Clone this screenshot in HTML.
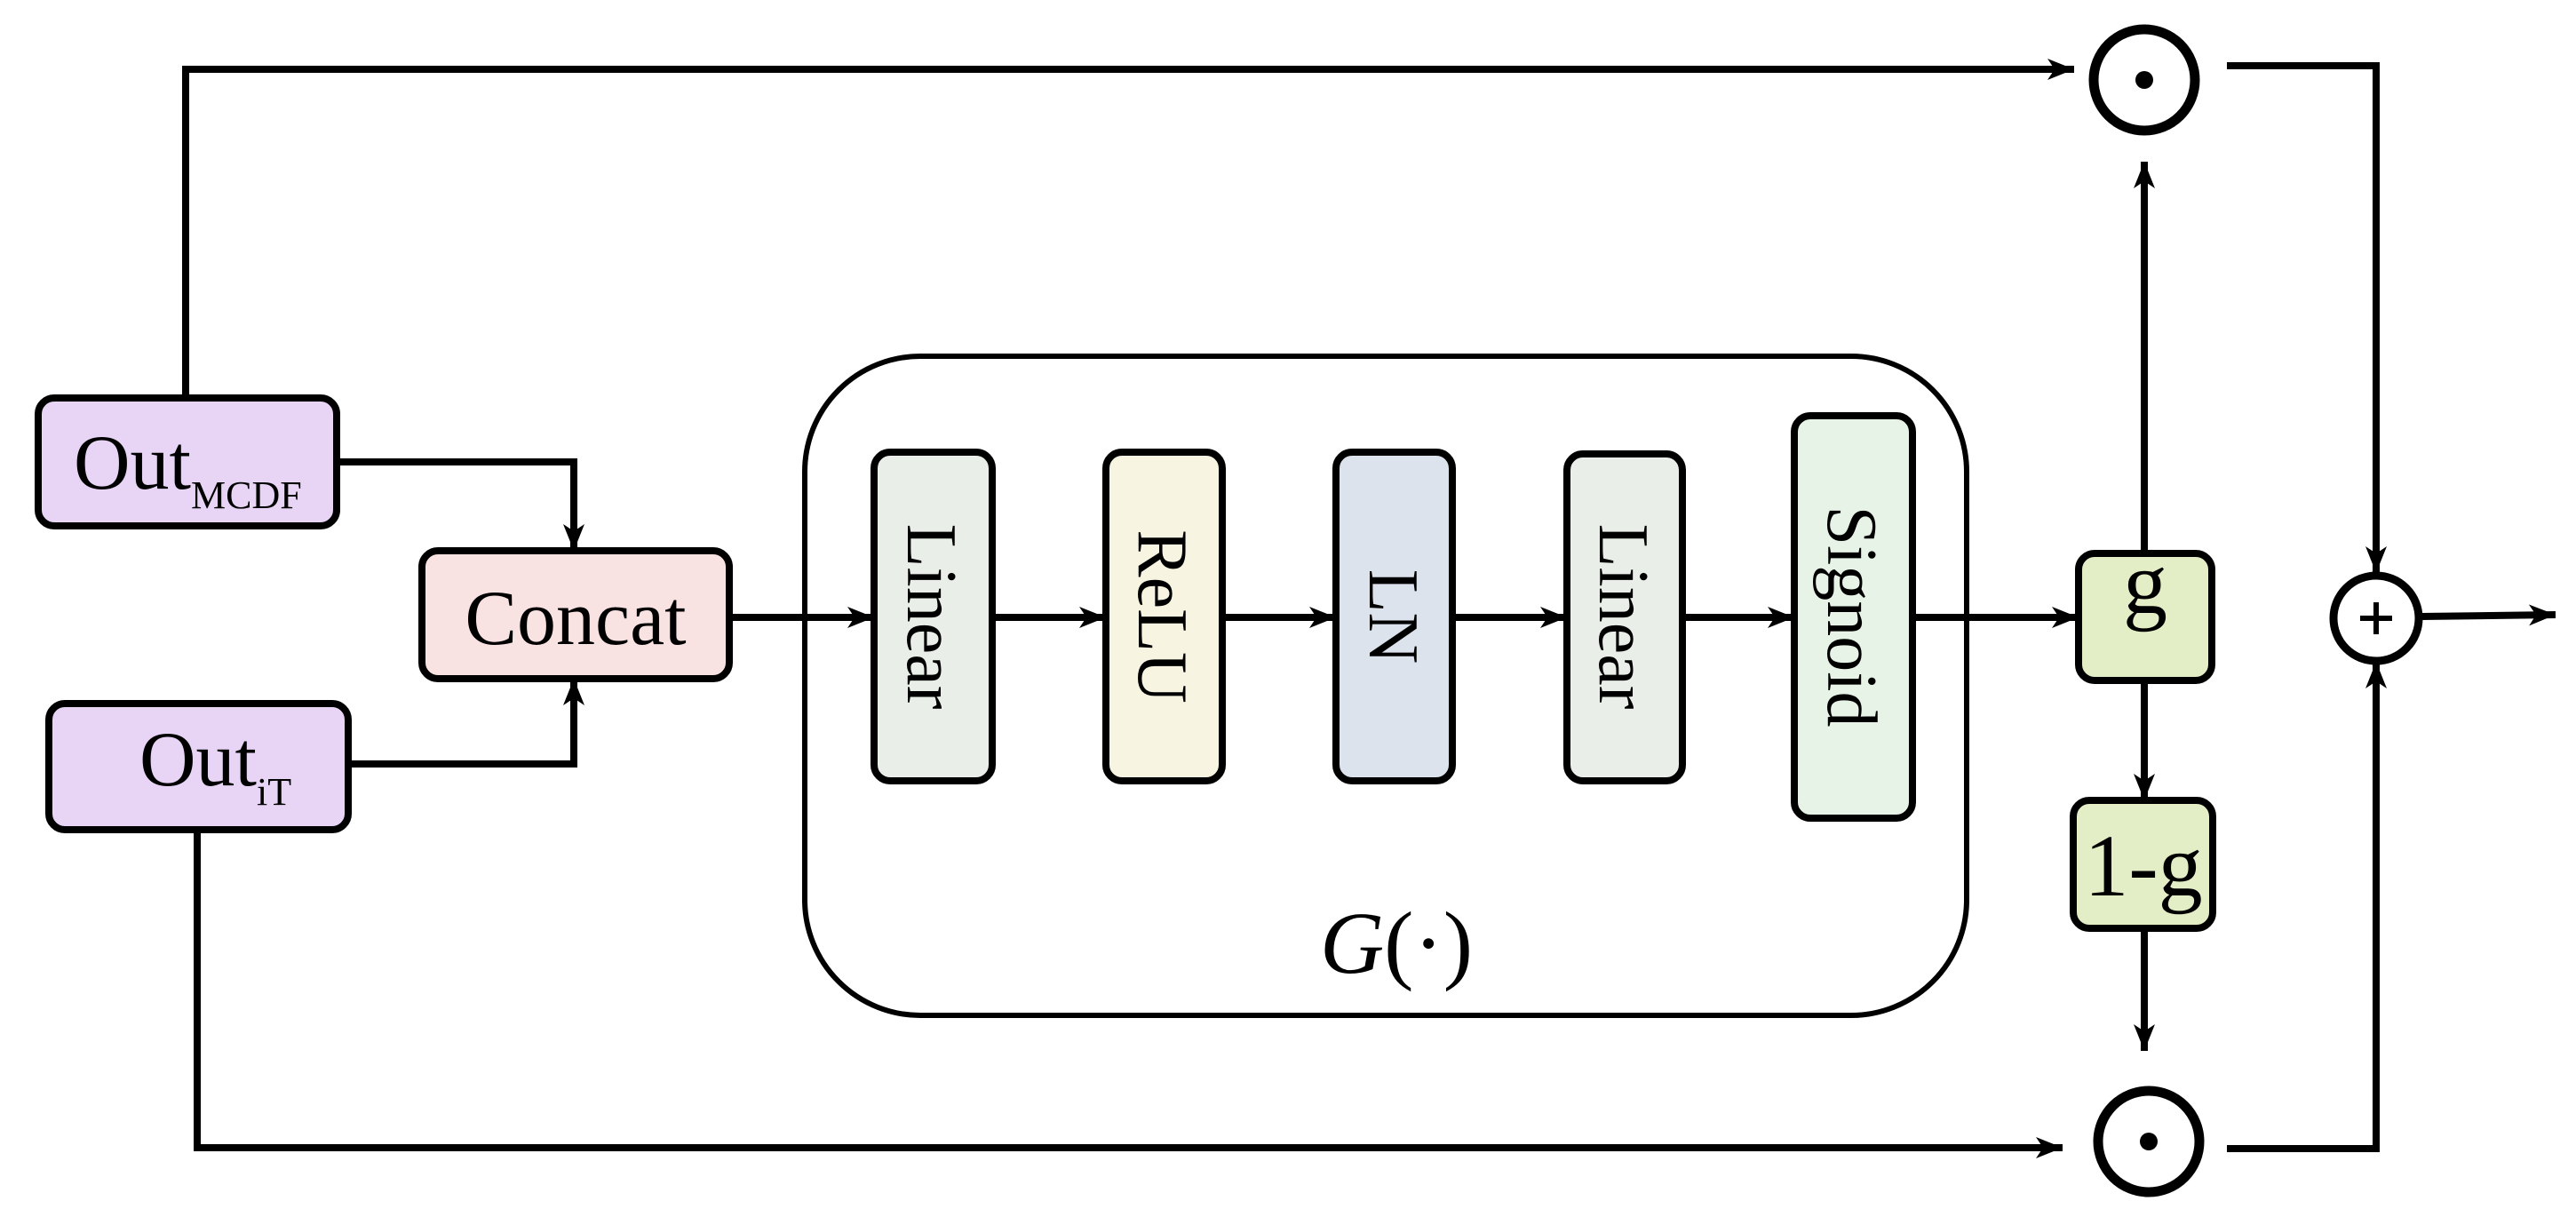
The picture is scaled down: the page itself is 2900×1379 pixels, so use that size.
<!DOCTYPE html>
<html><head><meta charset="utf-8"><style>
html,body{margin:0;padding:0;background:#fff;}
svg{display:block;}
text{font-family:"Liberation Serif",serif;fill:#000;}
</style></head><body>
<svg width="2900" height="1379" viewBox="0 0 2900 1379" xmlns="http://www.w3.org/2000/svg">
<defs>
<marker id="a" viewBox="0 0 30 24" refX="30" refY="12" markerWidth="30" markerHeight="24" markerUnits="userSpaceOnUse" orient="auto">
<path d="M0,0 L30,12 L0,24 L8,12 Z" fill="#000"/>
</marker>
</defs>
<g fill="none" stroke="#000" stroke-width="8">
<!-- top path -->
<polyline points="209,448 209,78 2335,78" marker-end="url(#a)"/>
<!-- bottom path -->
<polyline points="222,934 222,1292 2322,1292" marker-end="url(#a)"/>
<!-- MCDF to concat -->
<polyline points="379,520 646,520 646,620" marker-end="url(#a)"/>
<!-- iT to concat -->
<polyline points="392,860 646,860 646,764" marker-end="url(#a)"/>
<!-- main chain -->
<line x1="821" y1="695" x2="984" y2="695" marker-end="url(#a)"/>
<line x1="1117" y1="695" x2="1245" y2="695" marker-end="url(#a)"/>
<line x1="1376" y1="695" x2="1504" y2="695" marker-end="url(#a)"/>
<line x1="1635" y1="695" x2="1764" y2="695" marker-end="url(#a)"/>
<line x1="1894" y1="695" x2="2020" y2="695" marker-end="url(#a)"/>
<line x1="2153" y1="695" x2="2340" y2="695" marker-end="url(#a)"/>
<!-- g up / down -->
<line x1="2414" y1="623" x2="2414" y2="182" marker-end="url(#a)"/>
<line x1="2414" y1="766" x2="2414" y2="901" marker-end="url(#a)"/>
<line x1="2414" y1="1045" x2="2414" y2="1183" marker-end="url(#a)"/>
<!-- right side to plus -->
<polyline points="2507,74 2675,74 2675,645" marker-end="url(#a)"/>
<polyline points="2507,1293 2675,1293 2675,745" marker-end="url(#a)"/>
<line x1="2725" y1="694" x2="2877" y2="692" marker-end="url(#a)"/>
<!-- G box -->
<rect x="906" y="401" width="1308" height="742" rx="130" stroke-width="6"/>
</g>
<g stroke="#000" stroke-width="8">
<rect x="43" y="448" width="336" height="144" rx="18" fill="#e8d4f5"/>
<rect x="55" y="792" width="337" height="142" rx="18" fill="#e8d4f5"/>
<rect x="475" y="620" width="346" height="144" rx="18" fill="#f9e2e2"/>
<rect x="984" y="509" width="133" height="370" rx="18" fill="#e9eee8"/>
<rect x="1245" y="509" width="131" height="370" rx="18" fill="#f7f5e1"/>
<rect x="1504" y="509" width="131" height="370" rx="18" fill="#dce3ec"/>
<rect x="1764" y="511" width="130" height="368" rx="18" fill="#e9eee8"/>
<rect x="2020" y="468" width="133" height="453" rx="18" fill="#e8f3e7"/>
<rect x="2340" y="623" width="150" height="143" rx="18" fill="#e3eec6"/>
<rect x="2334" y="901" width="157" height="144" rx="18" fill="#e3eec6"/>
</g>
<g fill="#fff" stroke="#000" stroke-width="11">
<circle cx="2414" cy="90" r="57"/>
<circle cx="2419" cy="1285" r="57"/>
<circle cx="2675" cy="696" r="48" stroke-width="9"/>
</g>
<circle cx="2414" cy="90" r="10" fill="#000"/>
<circle cx="2419" cy="1285" r="10" fill="#000"/>
<g stroke="#000" stroke-width="6"><line x1="2657" y1="696" x2="2693" y2="696"/><line x1="2675" y1="678" x2="2675" y2="714"/></g>

<text x="83" y="550" font-size="88">Out<tspan font-size="44" dy="22">MCDF</tspan></text>
<text x="157" y="884" font-size="88">Out<tspan font-size="44" dy="22">iT</tspan></text>
<text x="648" y="725" font-size="88" text-anchor="middle">Concat</text>
<g font-size="80" text-anchor="middle">
<text transform="translate(1050,694) rotate(90)" dy="28">Linear</text>
<text transform="translate(1310,694) rotate(90)" dy="28">ReLU</text>
<text transform="translate(1570,694) rotate(90)" dy="28">LN</text>
<text transform="translate(1829,694) rotate(90)" dy="28">Linear</text>
<text transform="translate(2086,694) rotate(90)" dy="28">Signoid</text>
</g>
<text x="2415" y="690" font-size="100" text-anchor="middle">g</text>
<text x="2413" y="1008" font-size="100" text-anchor="middle">1-g</text>
<text x="1572" y="1095" font-size="100" text-anchor="middle"><tspan font-style="italic">G</tspan>(·)</text>
</svg>
</body></html>
